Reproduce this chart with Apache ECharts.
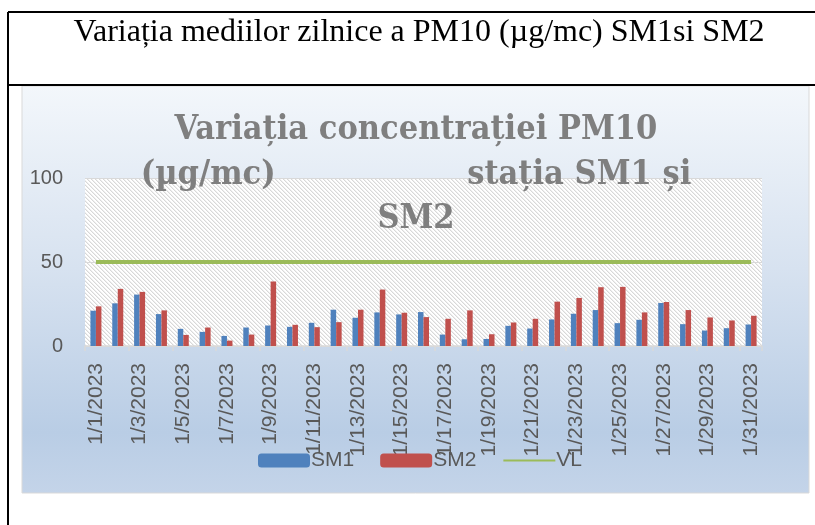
<!DOCTYPE html>
<html>
<head>
<meta charset="utf-8">
<script src="https://cdn.jsdelivr.net/npm/echarts@6/dist/echarts.min.js"></script>
<style>html,body{margin:0;padding:0;background:#fff}#c{width:815px;height:525px}</style>
</head>
<body>
<div id="c"></div>
<script>
const categories = ['1/1/2023','1/2/2023','1/3/2023','1/4/2023','1/5/2023','1/6/2023','1/7/2023','1/8/2023','1/9/2023','1/10/2023','1/11/2023','1/12/2023','1/13/2023','1/14/2023','1/15/2023','1/16/2023','1/17/2023','1/18/2023','1/19/2023','1/20/2023','1/21/2023','1/22/2023','1/23/2023','1/24/2023','1/25/2023','1/26/2023','1/27/2023','1/28/2023','1/29/2023','1/30/2023','1/31/2023'];
const sm1 = [21,25.4,30.6,19,10.2,8.4,6,11,12.2,11.4,13.8,21.6,16.8,20,18.8,20.2,6.8,4,4.2,12,10.4,15.8,19.2,21.4,13.6,15.6,25.6,13,9.2,10.6,12.8];
const sm2 = [23.6,34,32.2,21.2,6.6,11,3.2,6.8,38.4,12.6,11.2,14.2,21.6,33.6,19.8,17.2,16.2,21.2,7,14,16.2,26.4,28.6,35,35.2,20,26.2,21.4,17,15.2,18];
const vl = categories.map(() => 50);
const yTicks = [0, 50, 100];

const pc = document.createElement('canvas');
pc.width = 4; pc.height = 4;
const g = pc.getContext('2d');
g.fillStyle = '#ffffff'; g.fillRect(0,0,4,4);
for (let i = 0; i < 4; i++) {
  g.fillStyle = '#d8d8d8'; g.fillRect(i, i, 1, 1);
  g.fillStyle = '#efefef'; g.fillRect((i+1)%4, i, 1, 1);
}

const chart = echarts.init(document.getElementById('c'), null, {renderer: 'canvas'});
const lab = '#595959';
chart.setOption({
  animation: false,
  graphic: [
    {type:'rect', z:-10, shape:{x:22,y:86,width:787,height:407},
     style:{fill:new echarts.graphic.LinearGradient(0,0,0,1,[
       {offset:0,color:'#f3f7fb'},{offset:0.45,color:'#d7e2f0'},{offset:0.85,color:'#b9cde5'},{offset:1,color:'#c4d4e9'}]),
       stroke:'#d9d9d9', lineWidth:1}},
    {type:'line', shape:{x1:8,y1:12,x2:815,y2:12}, style:{stroke:'#000',lineWidth:2}},
    {type:'line', shape:{x1:8,y1:85,x2:815,y2:85}, style:{stroke:'#000',lineWidth:2}},
    {type:'line', shape:{x1:8,y1:12,x2:8,y2:525}, style:{stroke:'#000',lineWidth:2}},
    {type:'text', x:419, y:33, style:{text:'Variația mediilor zilnice a PM10 (µg/mc) SM1si SM2', fill:'#000',
      font:'32px "Liberation Serif"', textAlign:'center', textVerticalAlign:'middle'}},
    {type:'text', x:416, y:108, z:10, style:{text:'Variația concentrației PM10\n(µg/mc)                  stația SM1 și\nSM2',
      fill:'#7f7f7f', font:'bold 34px "DejaVu Serif Condensed","DejaVu Serif"', lineHeight:44.5, textAlign:'center', textVerticalAlign:'top'}}
  ],
  legend: {
    data: [{name:'SM1'},{name:'SM2'},{name:'VL', itemStyle:{opacity:0}}],
    left: 253, top: 445, itemWidth: 52, itemHeight: 14, itemGap: 26,
    textStyle: {fontFamily:'"Liberation Sans"', fontSize:21, color:lab, padding:[0,0,0,-4]}
  },
  grid: {left:85, right:53, top:178, bottom:179, show:true, borderWidth:0,
         backgroundColor:{image:pc, repeat:'repeat'}},
  xAxis: {
    type:'category', data:categories, boundaryGap:true,
    axisLine:{lineStyle:{color:'#d9d9d9', width:1.5}},
    axisTick:{show:true, interval:1, length:5, lineStyle:{color:'#d9d9d9', width:1.5}},
    axisLabel:{interval:1, rotate:90, margin:17, color:lab, fontFamily:'"Liberation Sans"', fontSize:21}
  },
  yAxis: {
    type:'value', min:0, max:100, interval:50,
    axisLine:{show:false}, axisTick:{show:false},
    splitLine:{show:true, lineStyle:{color:'#d9d9d9', width:1}},
    axisLabel:{margin:22, color:lab, fontFamily:'"Liberation Sans"', fontSize:20,
      formatter: v => yTicks.includes(v) ? String(v) : ''}
  },
  series: [
    {name:'SM1', type:'bar', data:sm1, barWidth:5.5, barGap:'0%', itemStyle:{color:'#4f81bd'}},
    {name:'SM2', type:'bar', data:sm2, barWidth:5.5, barGap:'0%', itemStyle:{color:'#c0504d'}},
    {name:'VL', type:'line', data:vl, symbol:'none', showSymbol:false, lineStyle:{color:'#9bbb59', width:4}, itemStyle:{color:'#9bbb59'}}
  ]
});
</script>
</body>
</html>
